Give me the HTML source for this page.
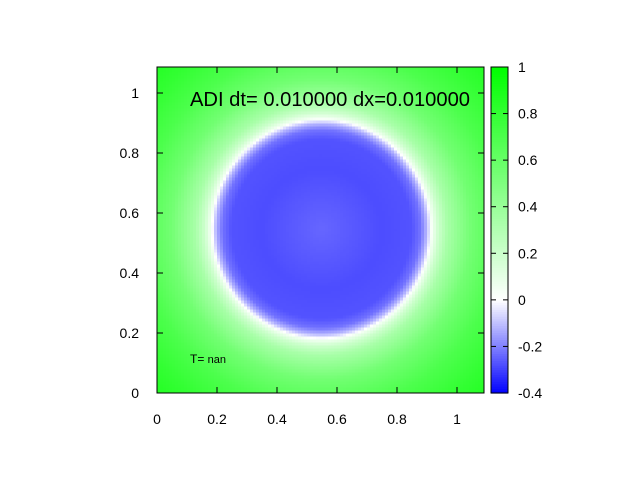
<!DOCTYPE html>
<html><head><meta charset="utf-8"><style>
body{margin:0;background:#fff}
svg text{font-family:"Liberation Sans",sans-serif;fill:#000}
</style></head><body>
<svg id="chart" width="640" height="480">
<g id="cells"></g>
<g id="cbar"></g>
<g id="axes"></g>
<text x="190" y="106" font-size="20" textLength="280" lengthAdjust="spacingAndGlyphs">ADI dt= 0.010000 dx=0.010000</text>
<text x="190" y="363" font-size="12">T= <tspan font-size="11">nan</tspan></text>
</svg>
<script>
// radial profile of field value vs distance from circle centre (data units)
const radii = [0, 0.1, 0.2, 0.3, 0.33, 0.35, 0.36, 0.37, 0.39, 0.42, 0.5, 0.6, 0.7, 0.8, 1.0];
const values = [-0.24, -0.26, -0.28, -0.27, -0.22, -0.12, -0.04, 0.06, 0.2, 0.34, 0.55, 0.7, 0.8, 0.88, 0.95];
const centre = [0.548, 0.548];
const xTicks = [0, 0.2, 0.4, 0.6, 0.8, 1];
const yTicks = [0, 0.2, 0.4, 0.6, 0.8, 1];
const cbTicks = [-0.4, -0.2, 0, 0.2, 0.4, 0.6, 0.8, 1];
const gridN = 109, cell = 0.01;

const NS = "http://www.w3.org/2000/svg";
const X0 = 157, X1 = 484, Y0 = 393, Y1 = 67;
const sx = v => X0 + v * 300, sy = v => Y0 - v * 300;
const CB0 = -0.4, CB1 = 1, cbX = 491, cbW = 17;
const cy = v => Y0 - (v - CB0) / (CB1 - CB0) * (Y0 - Y1);
function color(v) {
  let r, g, b;
  if (v < 0) { const t = Math.max(0, (v + 0.4) / 0.4); r = g = Math.round(255 * t); b = 255; }
  else { const t = Math.min(1, v); r = b = Math.round(255 * (1 - t)); g = 255; }
  return `rgb(${r},${g},${b})`;
}
function profile(r) {
  if (r >= radii[radii.length - 1]) return values[values.length - 1];
  for (let i = 1; i < radii.length; i++) if (r <= radii[i]) {
    const f = (r - radii[i - 1]) / (radii[i] - radii[i - 1]);
    return values[i - 1] + f * (values[i] - values[i - 1]);
  }
}
function mk(tag, attrs, parent) {
  const e = document.createElementNS(NS, tag);
  for (const k in attrs) e.setAttribute(k, attrs[k]);
  parent.appendChild(e); return e;
}
const cells = document.getElementById("cells");
for (let i = 0; i < gridN; i++) for (let j = 0; j < gridN; j++) {
  const x = i * cell, y = j * cell;
  const r = Math.hypot(x + cell / 2 - centre[0], y + cell / 2 - centre[1]);
  const x0 = sx(x), x1 = Math.min(X1, sx(x + cell)), y0 = sy(y), y1 = Math.max(Y1, sy(y + cell));
  const el = mk("rect", {x: x0, y: y1, width: x1 - x0 + 0.5, height: y0 - y1 + 0.5, fill: color(profile(r))}, cells);
  
  
}
const cb = document.getElementById("cbar");
for (let k = 0; k < 140; k++) {
  const v = CB0 + (k + 0.5) * (CB1 - CB0) / 140;
  const el = mk("rect", {x: cbX, y: cy(CB0 + (k + 1) * (CB1 - CB0) / 140), width: cbW, height: (Y0 - Y1) / 140 + 0.6, fill: color(v)}, cb);
  
  
}
const ax = document.getElementById("axes");
mk("rect", {x: X0, y: Y1, width: X1 - X0, height: Y0 - Y1, fill: "none", stroke: "#000", "stroke-width": 1}, ax);
mk("rect", {x: cbX, y: Y1, width: cbW, height: Y0 - Y1, fill: "none", stroke: "#000", "stroke-width": 1}, ax);
xTicks.forEach(t => {
  const x = sx(t);
  mk("line", {x1: x, x2: x, y1: Y0, y2: Y0 - 6, stroke: "#000"}, ax);
  mk("line", {x1: x, x2: x, y1: Y1, y2: Y1 + 6, stroke: "#000"}, ax);
  const tx = mk("text", {x: x, y: 424, "font-size": 14, "text-anchor": "middle"}, ax);
  tx.textContent = String(t);
  
  
});
yTicks.forEach(t => {
  const y = sy(t);
  mk("line", {x1: X0, x2: X0 + 6, y1: y, y2: y, stroke: "#000"}, ax);
  mk("line", {x1: X1, x2: X1 - 6, y1: y, y2: y, stroke: "#000"}, ax);
  const tx = mk("text", {x: 139, y: y + 5, "font-size": 14, "text-anchor": "end"}, ax);
  tx.textContent = String(t);
  
  
});
cbTicks.forEach(t => {
  const y = cy(t);
  mk("line", {x1: cbX, x2: cbX + 5, y1: y, y2: y, stroke: "#000"}, ax);
  mk("line", {x1: cbX + cbW, x2: cbX + cbW - 5, y1: y, y2: y, stroke: "#000"}, ax);
  const tx = mk("text", {x: 518, y: y + 5, "font-size": 14}, ax);
  tx.textContent = String(t);
  
  
});
</script>
</body></html>
